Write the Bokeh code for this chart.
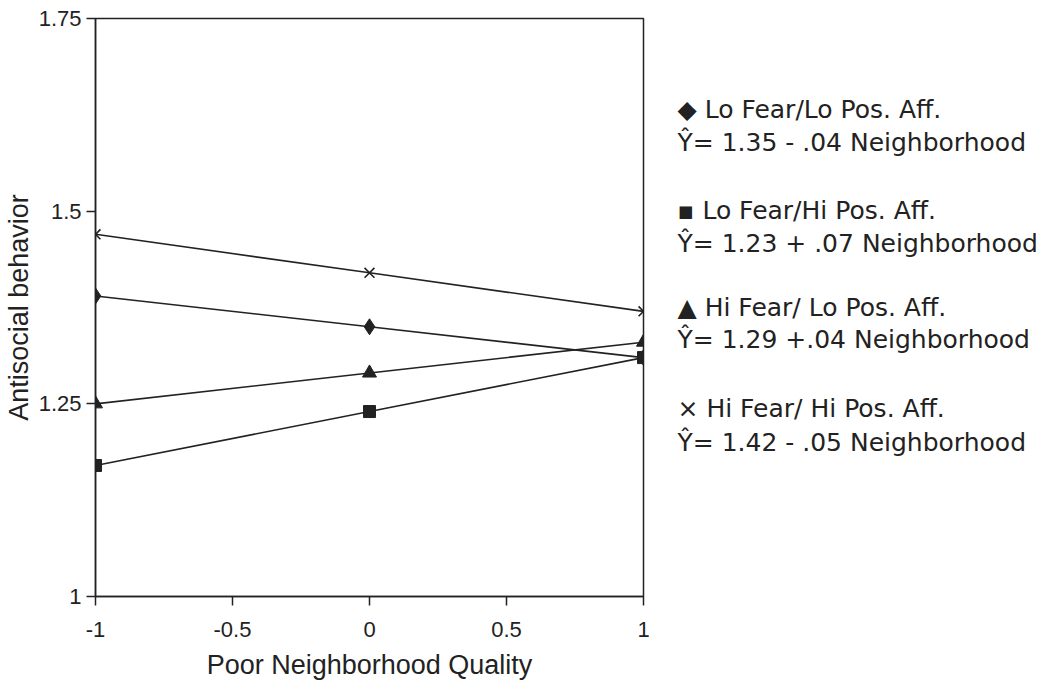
from bokeh.plotting import figure
from bokeh.models import FixedTicker, Range1d
from bokeh.layouts import row
from bokeh.core.properties import value
from bokeh.embed import file_html
from bokeh.resources import INLINE

x_vals = [-1, 0, 1]
lo_fear_lo_pos = [1.39, 1.35, 1.31]
lo_fear_hi_pos = [1.17, 1.24, 1.31]
hi_fear_lo_pos = [1.25, 1.29, 1.33]
hi_fear_hi_pos = [1.47, 1.42, 1.37]

x_ticks = [-1, -0.5, 0, 0.5, 1]
y_ticks = [1, 1.25, 1.5, 1.75]
y_tick_labels = {1: "1", 1.25: "1.25", 1.5: "1.5", 1.75: "1.75"}
x_tick_labels = {-1: "-1", -0.5: "-0.5", 0: "0", 0.5: "0.5", 1: "1"}

legend_titles = ["\u25c6 Lo Fear/Lo Pos. Aff.", "\u25aa Lo Fear/Hi Pos. Aff.",
                 "\u25b2 Hi Fear/ Lo Pos. Aff.", "\u00d7  Hi Fear/ Hi Pos. Aff."]
legend_eqs = ["\u0176= 1.35 - .04 Neighborhood", "\u0176= 1.23 + .07 Neighborhood",
              "\u0176= 1.29 +.04 Neighborhood", "\u0176= 1.42 - .05 Neighborhood"]

FONT = "Liberation Sans"
LEG_FONT = "DejaVu Sans"
INK = "#222222"
H = 690
TOP, BOTTOM = 18, 94

p = figure(width=660, height=H, output_backend="svg", toolbar_location=None,
           x_range=Range1d(-1, 1), y_range=Range1d(1, 1.75),
           min_border_left=95, min_border_right=17, min_border_top=TOP, min_border_bottom=BOTTOM)
p.grid.visible = False
p.outline_line_color = INK
p.outline_line_width = 1.5

p.xaxis.ticker = FixedTicker(ticks=x_ticks)
p.yaxis.ticker = FixedTicker(ticks=y_ticks)
p.xaxis.major_label_overrides = x_tick_labels
p.yaxis.major_label_overrides = y_tick_labels
for ax in (p.xaxis, p.yaxis):
    ax.minor_tick_line_color = None
    ax.major_tick_in = 0
    ax.major_tick_out = 9
    ax.axis_line_color = INK
    ax.axis_line_width = 1.5
    ax.major_tick_line_color = INK
    ax.major_tick_line_width = 1.5
    ax.major_label_text_font = FONT
    ax.major_label_text_font_size = "22px"
    ax.major_label_text_color = INK
    ax.axis_label_text_font = FONT
    ax.axis_label_text_font_size = "27px"
    ax.axis_label_text_font_style = "normal"
    ax.axis_label_text_color = INK
p.xaxis.axis_label = "Poor Neighborhood Quality"
p.yaxis.axis_label = "Antisocial behavior"
p.xaxis.major_label_standoff = 16
p.yaxis.major_label_standoff = 5
p.xaxis.axis_label_standoff = 10
p.yaxis.axis_label_standoff = 2

LW = 1.6
p.line(x_vals, hi_fear_hi_pos, line_color=INK, line_width=LW)
p.scatter(x_vals, hi_fear_hi_pos, marker="x", size=14, line_color=INK, line_width=1.6)
p.line(x_vals, lo_fear_lo_pos, line_color=INK, line_width=LW)
p.scatter(x_vals, lo_fear_lo_pos, marker="diamond", size=16, fill_color=INK, line_color=INK)
p.line(x_vals, hi_fear_lo_pos, line_color=INK, line_width=LW)
p.scatter(x_vals, hi_fear_lo_pos, marker="triangle", size=14, fill_color=INK, line_color=INK)
p.line(x_vals, lo_fear_hi_pos, line_color=INK, line_width=LW)
p.scatter(x_vals, lo_fear_hi_pos, marker="square", size=12, fill_color=INK, line_color=INK)

# legend panel: a bare figure whose coordinates equal page pixels
LW2 = 385
q = figure(width=LW2, height=H, output_backend="svg", toolbar_location=None,
           x_range=Range1d(0, LW2), y_range=Range1d(H - BOTTOM, TOP),
           min_border_left=0, min_border_right=0, min_border_top=TOP, min_border_bottom=BOTTOM)
q.axis.visible = False
q.grid.visible = False
q.outline_line_color = None

title_base = [109, 210, 307, 408]
eq_base = [142, 243, 339, 442]
txt, xs, ys = [], [], []
for tb, eb, title, eq in zip(title_base, eq_base, legend_titles, legend_eqs):
    txt += [title, eq]
    xs += [17, 17]
    ys += [tb, eb]
q.text(x=xs, y=ys, text=txt, text_font=value(LEG_FONT), text_font_size="25px",
       text_color=INK, text_baseline="alphabetic", text_align="left")

layout = row(p, q, spacing=0)
open("out.html", "w").write(file_html(layout, INLINE))
